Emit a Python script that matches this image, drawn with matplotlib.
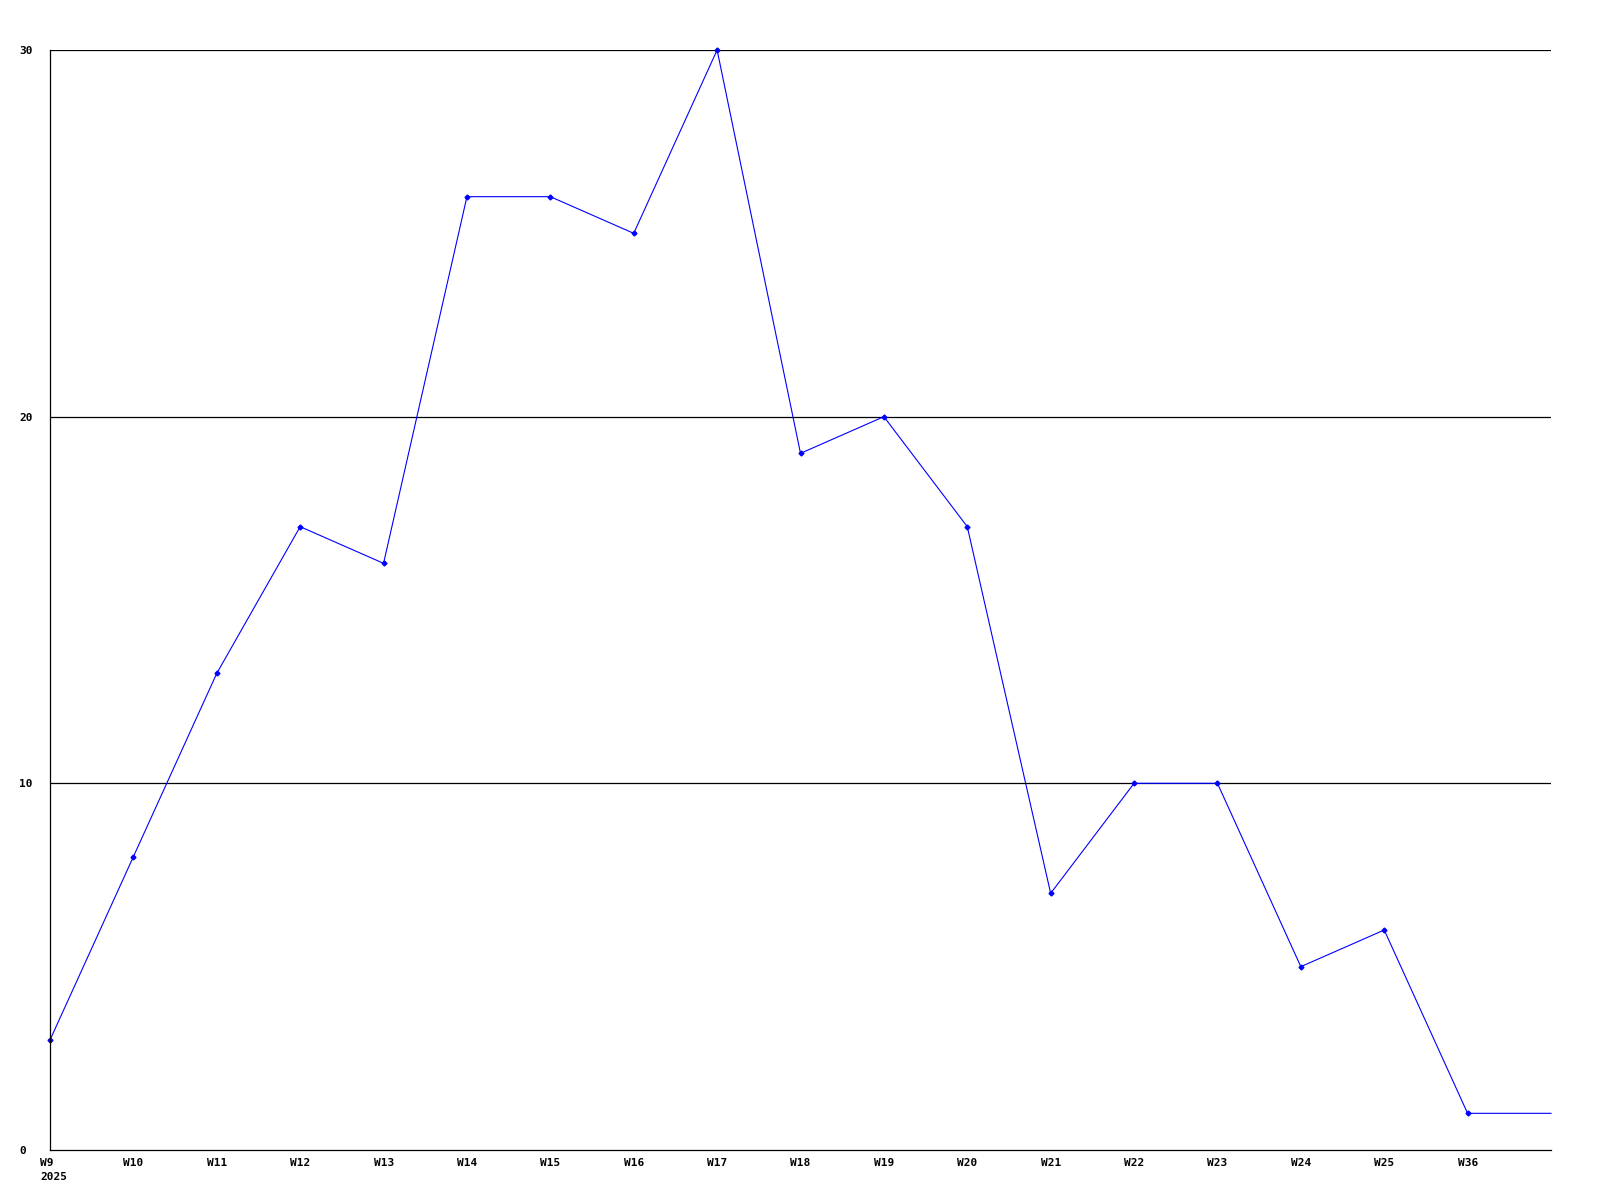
import matplotlib
matplotlib.use('Agg')
import matplotlib.pyplot as plt
from matplotlib.transforms import ScaledTranslation
import numpy as np

# weekly counts
weeks = ['W9\n2025', 'W10', 'W11', 'W12', 'W13', 'W14', 'W15', 'W16', 'W17',
         'W18', 'W19', 'W20', 'W21', 'W22', 'W23', 'W24', 'W25', 'W36']
values = [3, 8, 13, 17, 16, 26, 26, 25, 30, 19, 20, 17, 7, 10, 10, 5, 6, 1]
y_ticks = [0, 10, 20, 30]

plt.rcParams['font.family'] = 'DejaVu Sans Mono'

fig = plt.figure(figsize=(16, 12), dpi=100)
ax = fig.add_axes([50 / 1600, 1 - 1150 / 1200, 1501 / 1600, 1100 / 1200])

x = np.arange(len(values))
x_end = len(values)  # line runs on to the right edge at the last value
ax.plot(list(x) + [x_end], values + [values[-1]], color='#0000ff', linewidth=0.8,
        marker='D', markersize=2.5, markevery=list(range(len(values))), clip_on=False)

ax.set_xlim(0, x_end)
ax.set_ylim(0, 30)

for v in y_ticks[1:]:
    ax.axhline(v, color='black', linewidth=0.9, zorder=0)

ax.spines['top'].set_visible(False)
ax.spines['right'].set_visible(False)
for s in ['left', 'bottom']:
    ax.spines[s].set_linewidth(0.9)
    ax.spines[s].set_color('black')

ax.set_yticks(y_ticks)
ax.set_yticklabels([str(v) for v in y_ticks], fontsize=8, fontweight='bold')
ax.tick_params(axis='y', length=0, pad=22)
for lab in ax.get_yticklabels():
    lab.set_ha('left')

ax.set_xticks(x)
ax.set_xticklabels(weeks, fontsize=8, fontweight='bold', linespacing=1.45)
ax.tick_params(axis='x', length=0, pad=6)
shift = ScaledTranslation(-10 / 100, 0, fig.dpi_scale_trans)
for lab in ax.get_xticklabels():
    lab.set_ha('left')
    lab.set_multialignment('left')
    lab.set_transform(lab.get_transform() + shift)

fig.savefig('out.png', dpi=100)
